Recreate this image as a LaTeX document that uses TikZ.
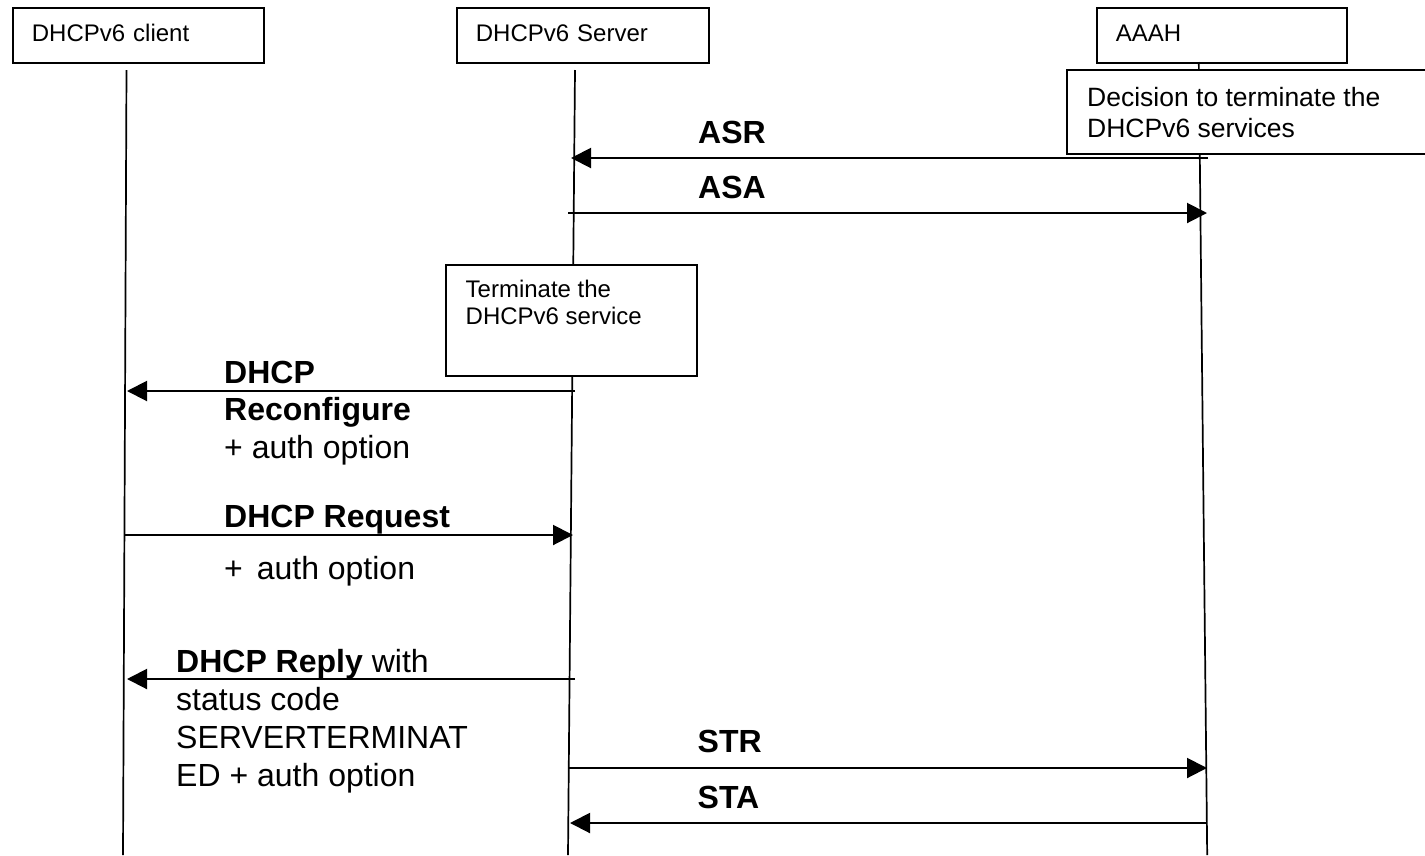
\documentclass[tikz,border=0pt]{standalone}
\usepackage{fontspec}
\setmainfont{Liberation Sans}
\usetikzlibrary{arrows.meta}
\begin{document}
\begin{tikzpicture}[x=1pt,y=-1pt,
  actor/.style={draw, line width=1.7pt, anchor=north west, minimum height=55pt,
    inner xsep=19pt, align=left, text height=17.6pt, text depth=5pt,
    font=\fontsize{24}{27.6}\selectfont},
  lifeline/.style={line width=1.7pt},
  boxline/.style={line width=1.7pt},
  msg/.style={line width=2pt, -{Triangle[length=20pt,width=20pt]}},
  lbl/.style={anchor=base west, inner sep=0pt, font=\fontsize{32}{38}\selectfont},
  smalltxt/.style={anchor=base west, inner sep=0pt, font=\fontsize{24}{27}\selectfont},
  dectxt/.style={anchor=base west, inner sep=0pt, font=\fontsize{26.5}{31}\selectfont}]
\useasboundingbox (0,0) rectangle (1425,855);

% participants
\node[actor, text width=213pt] (client) at (12,7) {DHCPv6 client};
\node[actor, text width=214pt] (server) at (456,7) {DHCPv6 Server};
\node[actor, text width=212pt] (aaah) at (1096,7) {AAAH};

% lifelines
\coordinate (cliTop) at (126.5,70);
\coordinate (cliBot) at (123,855);
\coordinate (srvTop) at (575,70);
\coordinate (srvBot) at (568,855);
\coordinate (aaaTop) at (1198.8,62);
\coordinate (aaaBot) at (1207.2,855);
\draw[lifeline] (cliTop) -- (cliBot);
\draw[lifeline] (srvTop) -- (srvBot);
\draw[lifeline] (aaaTop) -- (aaaBot);

% decision note at the AAAH (open towards the right edge)
\fill[white] (1067,70) rectangle (1425,154);
\draw[boxline] (1425,70) -- (1067,70) -- (1067,154) -- (1425,154);
\node[dectxt] (dec1) at (1087,106) {Decision to terminate the};
\node[dectxt] (dec2) at (1087,137) {DHCPv6 services};

% termination note on the server lifeline
\node[draw, boxline, fill=white, anchor=north west, minimum width=251pt,
      minimum height=111pt, inner sep=0pt] (term) at (445,264) {};
\node[smalltxt] (term1) at (465.5,297) {Terminate the};
\node[smalltxt] (term2) at (465.5,324) {DHCPv6 service};

% message end points
\coordinate (asrS) at (1208,158);  \coordinate (asrE) at (571,158);
\coordinate (asaS) at (568,213);   \coordinate (asaE) at (1207,213);
\coordinate (rcfS) at (575,391);   \coordinate (rcfE) at (127,391);
\coordinate (reqS) at (125,535);   \coordinate (reqE) at (573,535);
\coordinate (repS) at (575,679);   \coordinate (repE) at (127,679);
\coordinate (strS) at (569,768);   \coordinate (strE) at (1207,768);
\coordinate (staS) at (1207,823);  \coordinate (staE) at (570,823);

% messages
\draw[msg] (asrS) -- (asrE);
\draw[msg] (asaS) -- (asaE);
\draw[msg] (rcfS) -- (rcfE);
\draw[msg] (reqS) -- (reqE);
\draw[msg] (repS) -- (repE);
\draw[msg] (strS) -- (strE);
\draw[msg] (staS) -- (staE);

% message labels
\node[lbl] (asrL) at (698,143) {\textbf{ASR}};
\node[lbl] (asaL) at (698,198) {\textbf{ASA}};
\node[lbl] (rcfL1) at (224,383) {\textbf{DHCP}};
\node[lbl] (rcfL2) at (224,420) {\textbf{Reconfigure}};
\node[lbl] (rcfL3) at (224,458) {+ auth option};
\node[lbl] (reqL1) at (224,527) {\textbf{DHCP Request}};
\node[lbl] (reqL2) at (224,579) {+\hspace{5pt} auth option};
\node[lbl] (repL1) at (176,672) {\textbf{DHCP Reply} with};
\node[lbl] (repL2) at (176,710) {status code};
\node[lbl] (repL3) at (176,748) {SERVERTERMINAT};
\node[lbl] (repL4) at (176,786) {ED + auth option};
\node[lbl] (strL) at (697.5,752) {\textbf{STR}};
\node[lbl] (staL) at (697.5,808) {\textbf{STA}};
\end{tikzpicture}
\end{document}
